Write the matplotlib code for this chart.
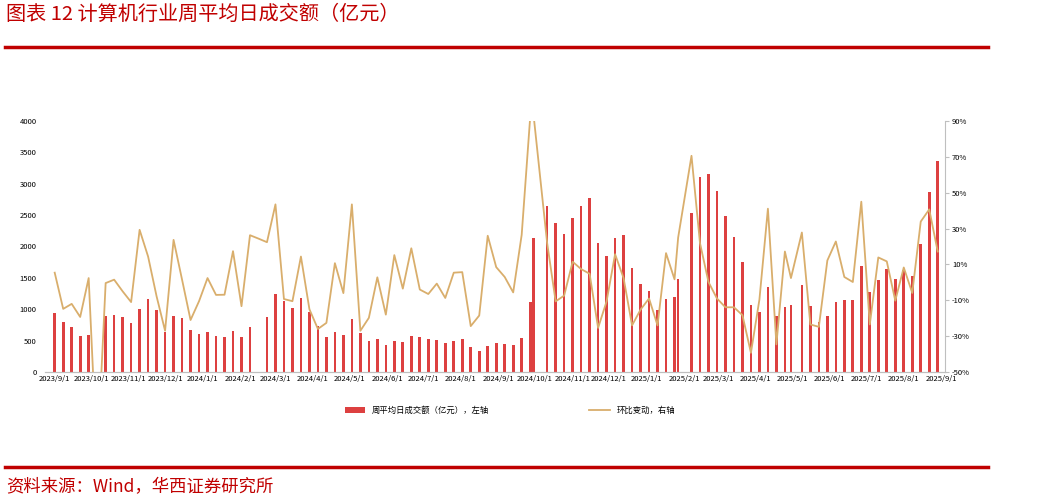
import matplotlib
matplotlib.use("Agg")
import matplotlib.pyplot as plt
import numpy as np
import pandas as pd

plt.rcParams['font.family'] = ['Noto Sans CJK SC', 'DejaVu Sans']

# weekly dates with holiday adjustments
weeks = list(pd.date_range("2023-09-01", "2025-08-29", freq="7D"))
weeks = [d for d in weeks if d not in (pd.Timestamp("2024-10-04"), pd.Timestamp("2025-01-31"), pd.Timestamp("2025-05-02"))]
extra = [pd.Timestamp("2024-09-30"), pd.Timestamp("2025-01-27"), pd.Timestamp("2025-04-30")]
dates = sorted(weeks + extra)

turnover = [940, 800, 710, 570, 590, np.nan, 900, 910, 870, 780, 1010, 1160, 990, 635, 890, 860, 670, 610, 630, 580,
            550, 650, 560, 710, np.nan, 870, 1250, 1130, 1020, 1180, 960, 730, 560, 630, 590, 850, 620, 500, 520, 430,
            490, 480, 570, 550, 520, 510, 470, 500, 530, 400, 330, 420, 460, 450, 430, 545, 1111, 2143,
            2640, 2370, 2196, 2460, 2640, 2772, 2058, 1852, 2143, 2185, 1661, 1407, 1296, 989, 1159, 1190, 1476,
            2540, 3106, 3153, 2884, 2487, 2148, 1757, 1074, 952, 1354, 889, 1042, 1069,
            1381, 1058, 799, 894, 1111, 1143, 1153, 1683, 1280, 1471, 1646, 1481, 1619, 1524, 2032, 2873, 3360, 2233]
change = [5.4, -14.8, -12, -19.3, 2.4, -100, -0.4, 1.5, -5, -11, 29.3, 14.4, -7.8, -27, 23.7, 1.5, -21, -10.5, 2.4, -7,
          -6.9, 17.4, -13.3, 26.3, 24.4, 22.4, 43.5, -9.3, -10.5, 14.4, -15, -26, -22.6, 10.7, -6, 43.5, -27, -19.8, 2.8, -18,
          15.2, -3.5, 19, -4, -6.5, -0.7, -8.7, 5.4, 5.7, -24.4, -18.5, 26, 8.5, 3.0, -5.6, 26.5, 92, 92,
          21.9, -10.6, -7.4, 11.5, 7.4, 4.8, -25.4, -10.6, 15.7, 2.4, -24, -15.2, -9, -24, 16.3, 1.7, 25,
          70.6, 21.9, 0.2, -9, -13.9, -13.9, -18.3, -39.3, -9.6, 41.1, -34.6, 17.2, 2.4,
          27.8, -23.5, -24.8, 12.2, 22.8, 3, 0.2, 45, -23.5, 13.9, 11.7, -10.2, 8.3, -5.9, 33.9, 40.7, 17.2, -33.7]
tick_labels = ["2023/9/1", "2023/10/1", "2023/11/1", "2023/12/1", "2024/1/1", "2024/2/1", "2024/3/1", "2024/4/1",
               "2024/5/1", "2024/6/1", "2024/7/1", "2024/8/1", "2024/9/1", "2024/10/1", "2024/11/1", "2024/12/1",
               "2025/1/1", "2025/2/1", "2025/3/1", "2025/4/1", "2025/5/1", "2025/6/1", "2025/7/1", "2025/8/1", "2025/9/1"]

n = min(len(dates), len(turnover), len(change))
dates, turnover, change = dates[:n], turnover[:n], change[:n]

fig = plt.figure(figsize=(10.53, 5.01), dpi=100)
W, H = 1053, 501
red = "#C00000"
fig.text(6 / W, 1 - 14 / H, "图表 12 计算机行业周平均日成交额（亿元）", color=red, fontsize=14.5, va="center", ha="left")
fig.add_artist(plt.Line2D([5 / W, 988 / W], [1 - 47 / H] * 2, color=red, lw=2.5))
fig.add_artist(plt.Line2D([5 / W, 988 / W], [1 - 467 / H] * 2, color=red, lw=2.5))
fig.text(6 / W, 1 - 487 / H, "资料来源：Wind，华西证券研究所", color=red, fontsize=12.5, va="center", ha="left")

ax = fig.add_axes([45 / W, 1 - 372 / H, 900 / W, 251 / H])
ax2 = ax.twinx()
ax.bar(dates, turnover, width=2.2, color="#D81E1E", alpha=0.85, label="周平均日成交额（亿元），左轴", zorder=2)
ax2.plot(dates, change, color="#D9AE6C", lw=1.3, label="环比变动，右轴", zorder=3)
ax.set_ylim(0, 4000)
ax.set_yticks(range(0, 4001, 500))
ax2.set_ylim(-50, 90)
ax2.set_yticks(range(-50, 91, 20))
ax2.set_yticklabels([f"{v}%" for v in range(-50, 91, 20)])
ax.set_xlim(pd.Timestamp("2023-08-24"), pd.Timestamp("2025-09-04"))
tick_dates = [pd.Timestamp(s.replace("/", "-")) for s in tick_labels]
ax.set_xticks(tick_dates)
ax.set_xticklabels(tick_labels)
for a in (ax, ax2):
    a.tick_params(labelsize=5.5, length=0, pad=2)
    for s in ("top", "left", "right"):
        a.spines[s].set_visible(False)
    a.spines["bottom"].set_color("#BFBFBF")
ax.tick_params(axis="y", pad=6)
ax2.spines["right"].set_visible(True)
ax2.spines["right"].set_color("#BFBFBF")
ax2.tick_params(axis="y", length=3, color="#BFBFBF")

h1, l1 = ax.get_legend_handles_labels()
h2, l2 = ax2.get_legend_handles_labels()
fig.legend(h1 + h2, l1 + l2, loc="center", bbox_to_anchor=(510 / W, 1 - 410 / H), ncol=2, frameon=False,
           fontsize=6, columnspacing=12, handlelength=2.5)
fig.savefig("out.png", dpi=100)
